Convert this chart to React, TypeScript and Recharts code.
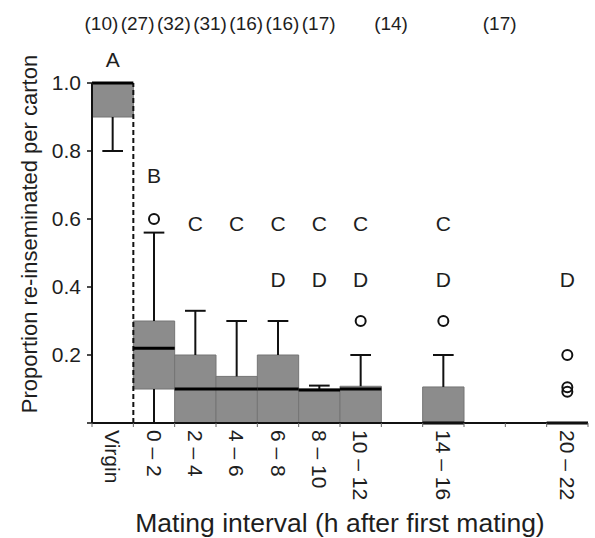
import React from 'react';
import { ComposedChart, XAxis, YAxis, ReferenceArea, ReferenceLine, ReferenceDot, Scatter } from 'recharts';

// groups on a continuous time axis (h after first mating); Virgin sits left of 0
const groups = ['Virgin', '0 – 2', '2 – 4', '4 – 6', '6 – 8', '8 – 10', '10 – 12', '14 – 16', '20 – 22'];
const groupStart = [-2, 0, 2, 4, 6, 8, 10, 14, 20];
const sampleSizes = ['(10)', '(27)', '(32)', '(31)', '(16)', '(16)', '(17)', '(14)', '(17)'];

const boxLow = [0.9, 0.1, 0, 0, 0, 0, 0, 0, 0];
const boxHigh = [1.0, 0.3, 0.2, 0.137, 0.2, 0.1, 0.108, 0.106, 0];
const medians = [1.0, 0.22, 0.1, 0.1, 0.1, 0.097, 0.1, 0, 0];
const whiskerLow = [0.8, 0, 0, 0, 0, 0, 0, 0, 0];
const whiskerHigh = [1.0, 0.56, 0.33, 0.3, 0.3, 0.11, 0.2, 0.2, 0];

const outlierGroup = [1, 6, 7, 8, 8, 8];
const outlierValue = [0.6, 0.3, 0.3, 0.2, 0.105, 0.092];

const letterText = ['A', 'B', 'C', 'C', 'C', 'C', 'C', 'C', 'D', 'D', 'D', 'D', 'D'];
const letterGroup = [0, 1, 2, 3, 4, 5, 6, 7, 4, 5, 6, 7, 8];
const letterValue = [1.068, 0.729, 0.588, 0.588, 0.588, 0.588, 0.588, 0.588, 0.423, 0.423, 0.423, 0.423, 0.423];
const countRowValue = 1.176;

const yTicks = [0, 0.2, 0.4, 0.6, 0.8, 1.0];
const xBoundaries = [-2, 0, 2, 4, 6, 8, 10, 12, 14, 16, 18, 20, 22];

const centers = groupStart.map((s) => s + 1);
// the (n) row in the original is packed tighter than the columns below it,
// so it gets its own hidden axis with a wider domain
const countDomain = [-1.52, 25.88];

const outliers = outlierGroup.map((g, i) => ({ x: centers[g], y: outlierValue[i] }));
const countAnchors = centers.map((c) => ({ x: c, y: 0 }));

const FONT = '"Liberation Sans", Arial, sans-serif';
const INK = '#1e1e1e';
const BOX_FILL = '#8c8c8c';
const BOX_EDGE = '#757575';

const BottomTick = (props: any) => {
  const { x, y, payload } = props;
  const idx = centers.indexOf(payload.value);
  if (idx < 0) {
    return <line x1={x} x2={x} y1={y} y2={y + 4} stroke="#666" strokeWidth={1} />;
  }
  return (
    <text
      transform={`translate(${x},${y + 7}) rotate(90)`}
      textAnchor="start"
      dominantBaseline="central"
      fontSize={21}
      fontFamily={FONT}
      fill={INK}
    >
      {groups[idx]}
    </text>
  );
};

const YTitle = (props: any) => {
  const vb = props.viewBox;
  const cx = vb.x + 29;
  const cy = vb.y + vb.height / 2 - 19;
  return (
    <text
      transform={`translate(${cx},${cy}) rotate(-90)`}
      textAnchor="middle"
      dominantBaseline="central"
      fontSize={22}
      fontFamily={FONT}
      fill={INK}
    >
      Proportion re-inseminated per carton
    </text>
  );
};

const XTitle = (props: any) => {
  const vb = props.viewBox;
  return (
    <text x={vb.x + vb.width / 2} y={vb.y + 109} textAnchor="middle" fontSize={26.5} fontFamily={FONT} fill={INK}>
      Mating interval (h after first mating)
    </text>
  );
};

const Word = (text: string, size: number) => (p: any) => (
  <text x={p.cx} y={p.cy} textAnchor="middle" dominantBaseline="central" fontSize={size} fontFamily={FONT} fill={INK}>
    {text}
  </text>
);

const Outlier = (p: any) => <circle cx={p.cx} cy={p.cy} r={5} fill="none" stroke="#111" strokeWidth={2} />;
const Nothing = () => <g />;

export default function App() {
  return (
    <div style={{ position: 'absolute', left: 0, top: 0, background: '#fff' }}>
      <ComposedChart width={595} height={538} margin={{ top: 83, right: 7, bottom: 0, left: 0 }}>
        <XAxis
          dataKey="x"
          type="number"
          domain={[-2, 22]}
          allowDataOverflow
          ticks={[...xBoundaries, ...centers].sort((a, b) => a - b)}
          interval={0}
          tickSize={0}
          tickMargin={0}
          tickLine={false}
          tick={<BottomTick />}
          axisLine={{ stroke: '#111', strokeWidth: 2 }}
          height={115}
          label={{ content: XTitle }}
        />
        <XAxis xAxisId="top" dataKey="x" type="number" domain={countDomain} allowDataOverflow hide />
        <YAxis
          dataKey="y"
          type="number"
          domain={[0, 1]}
          ticks={yTicks}
          interval={0}
          width={92}
          tickSize={5}
          tickMargin={6}
          tickFormatter={(v: number) => (v === 0 ? '' : v.toFixed(1))}
          tick={{ fontSize: 21, fontFamily: FONT, fill: INK }}
          tickLine={{ stroke: '#111', strokeWidth: 1.5 }}
          axisLine={{ stroke: '#111', strokeWidth: 2 }}
          label={{ content: YTitle }}
        />

        {groups.map((g, i) =>
          boxHigh[i] > boxLow[i] ? (
            <ReferenceArea
              key={`box-${g}`}
              x1={groupStart[i]}
              x2={groupStart[i] + 2}
              y1={boxLow[i]}
              y2={boxHigh[i]}
              fill={BOX_FILL}
              fillOpacity={1}
              stroke={BOX_EDGE}
              strokeWidth={1}
            />
          ) : null
        )}

        <ReferenceLine
          segment={[{ x: 0, y: 0 }, { x: 0, y: 1 }]}
          stroke="#111"
          strokeWidth={2}
          strokeDasharray="5 3"
        />

        {groups.map((g, i) =>
          whiskerHigh[i] > boxHigh[i] ? (
            <ReferenceLine
              key={`wh-${g}`}
              segment={[{ x: centers[i], y: boxHigh[i] }, { x: centers[i], y: whiskerHigh[i] }]}
              stroke="#111"
              strokeWidth={2}
            />
          ) : null
        )}
        {groups.map((g, i) =>
          whiskerHigh[i] > boxHigh[i] ? (
            <ReferenceLine
              key={`cap-h-${g}`}
              segment={[{ x: centers[i] - 0.5, y: whiskerHigh[i] }, { x: centers[i] + 0.5, y: whiskerHigh[i] }]}
              stroke="#111"
              strokeWidth={2}
            />
          ) : null
        )}
        {groups.map((g, i) =>
          whiskerLow[i] < boxLow[i] ? (
            <ReferenceLine
              key={`wl-${g}`}
              segment={[{ x: centers[i], y: whiskerLow[i] }, { x: centers[i], y: boxLow[i] }]}
              stroke="#111"
              strokeWidth={2}
            />
          ) : null
        )}
        {groups.map((g, i) =>
          whiskerLow[i] < boxLow[i] && whiskerLow[i] > 0 ? (
            <ReferenceLine
              key={`cap-l-${g}`}
              segment={[{ x: centers[i] - 0.5, y: whiskerLow[i] }, { x: centers[i] + 0.5, y: whiskerLow[i] }]}
              stroke="#111"
              strokeWidth={2}
            />
          ) : null
        )}
        {groups.map((g, i) => (
          <ReferenceLine
            key={`med-${g}`}
            segment={[{ x: groupStart[i], y: medians[i] }, { x: groupStart[i] + 2, y: medians[i] }]}
            stroke="#000"
            strokeWidth={3}
            ifOverflow="visible"
          />
        ))}

        <Scatter data={outliers} dataKey="y" isAnimationActive={false} shape={Outlier} />
        <Scatter xAxisId="top" data={countAnchors} dataKey="y" isAnimationActive={false} shape={Nothing} />

        {letterText.map((t, i) => (
          <ReferenceDot
            key={`ltr-${i}`}
            x={centers[letterGroup[i]]}
            y={letterValue[i]}
            r={0}
            ifOverflow="visible"
            shape={Word(t, 21)}
          />
        ))}
        {sampleSizes.map((n, i) => (
          <ReferenceDot
            key={`n-${i}`}
            xAxisId="top"
            x={centers[i]}
            y={countRowValue}
            r={0}
            ifOverflow="visible"
            shape={Word(n, 19)}
          />
        ))}
      </ComposedChart>
    </div>
  );
}
